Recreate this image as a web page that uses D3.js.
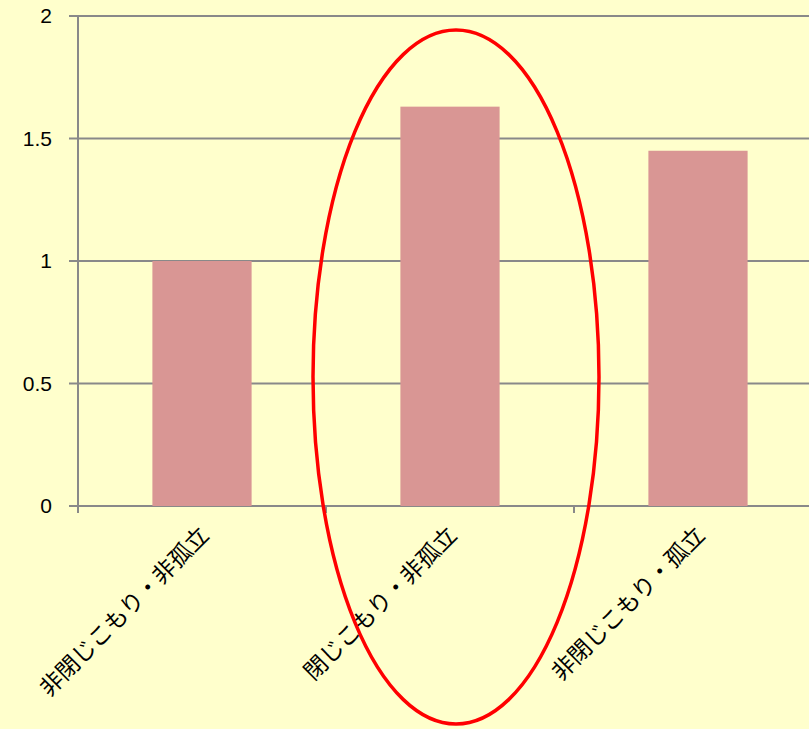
<!DOCTYPE html>
<html><head><meta charset="utf-8">
<script src="https://cdn.jsdelivr.net/npm/d3@7"></script>
<style>html,body{margin:0;padding:0;background:#FFFFCC;overflow:hidden}</style>
</head><body>
<svg id="c" width="809" height="729"></svg>
<script>
const categories = ["非閉じこもり・非孤立", "閉じこもり・非孤立", "非閉じこもり・孤立"];
const values = [1.0, 1.63, 1.45];
const yTicks = [0, 0.5, 1, 1.5, 2];
const highlightIndex = 1;

const svg = d3.select("#c");
const W = 809, H = 729;
svg.append("rect").attr("width", W).attr("height", H).attr("fill", "#FFFFCC");

const x0 = 78, band = 248;
const x = d3.scaleBand().domain(categories).range([x0, x0 + band * categories.length]).paddingInner(0.6).paddingOuter(0.3);
const y = d3.scaleLinear().domain([0, 2]).range([506, 16]);
const grey = "#898989";

// gridlines
svg.append("g").selectAll("line").data(yTicks).join("line")
  .attr("x1", 69).attr("x2", W).attr("y1", d => y(d)).attr("y2", d => y(d))
  .attr("stroke", grey).attr("stroke-width", 2);

// bars
svg.append("g").selectAll("rect").data(values).join("rect")
  .attr("x", (d, i) => x(categories[i]))
  .attr("width", x.bandwidth())
  .attr("y", d => y(d))
  .attr("height", d => y(0) - y(d))
  .attr("fill", "#D99694");

// y axis line
svg.append("line").attr("x1", x0).attr("x2", x0).attr("y1", y(2)).attr("y2", 513)
  .attr("stroke", grey).attr("stroke-width", 2);
// category ticks
const bounds = d3.range(categories.length + 1).map(i => x0 + band * i);
svg.append("g").selectAll("line").data(bounds).join("line")
  .attr("x1", d => d).attr("x2", d => d).attr("y1", 506).attr("y2", 513)
  .attr("stroke", grey).attr("stroke-width", 2);

// y tick labels
svg.append("g").selectAll("text").data(yTicks).join("text")
  .attr("x", 52).attr("y", d => y(d)).attr("dy", "0.35em")
  .attr("text-anchor", "end")
  .attr("font-family", "Liberation Sans, Arial, sans-serif").attr("font-size", 21)
  .attr("fill", "#000").text(d => d);

// category labels
svg.append("g").selectAll("text").data(categories).join("text")
  .attr("transform", d => `translate(${x(d) + x.bandwidth() / 2 + 8},${537}) rotate(-45)`)
  .attr("text-anchor", "end")
  .attr("font-family", "Noto Sans CJK JP, sans-serif").attr("font-size", 23)
  .attr("letter-spacing", -0.3)
  .attr("fill", "#000").text(d => d);

// highlight ellipse
const hc = x(categories[highlightIndex]) + x.bandwidth() / 2;
svg.append("ellipse").attr("cx", hc + 6).attr("cy", 377).attr("rx", 143).attr("ry", 347)
  .attr("fill", "none").attr("stroke", "#FF0000").attr("stroke-width", 3.5);
</script>
</body></html>
